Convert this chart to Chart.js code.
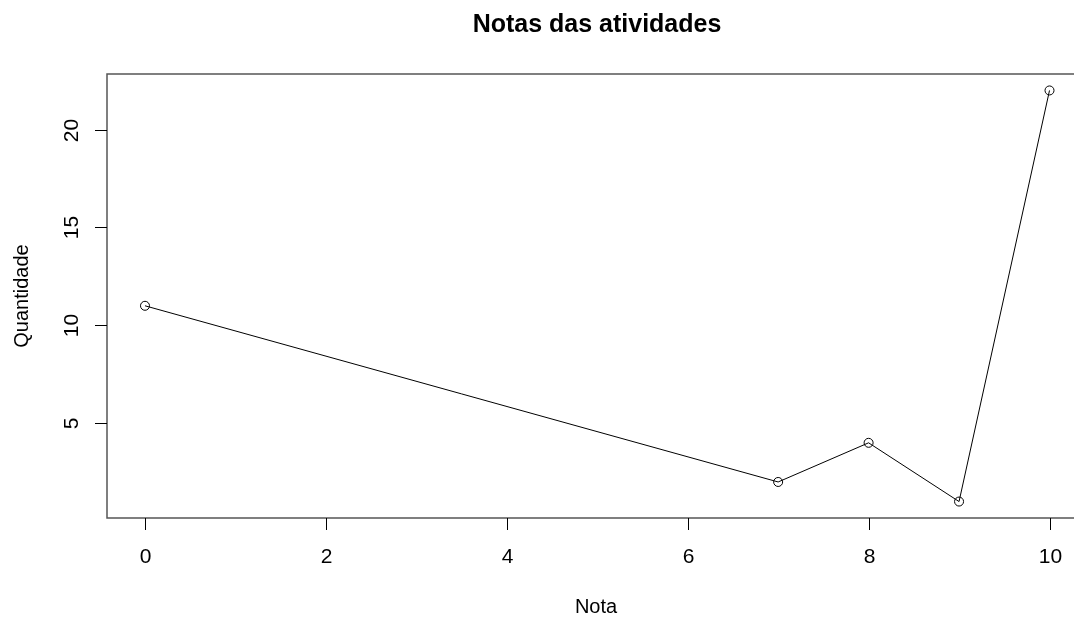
<!DOCTYPE html>
<html>
<head>
<meta charset="utf-8">
<script src="https://cdn.jsdelivr.net/npm/chart.js@4/dist/chart.umd.min.js"></script>
<style>
  html, body { margin: 0; padding: 0; background: #ffffff; }
  #wrap { width: 1074px; height: 618px; }
</style>
</head>
<body>
<div id="wrap"><canvas id="chart" width="1074" height="618"></canvas></div>
<script>
// values
const notas = [0, 7, 8, 9, 10];
const quantidade = [11, 2, 4, 1, 22];
const xTicks = [0, 2, 4, 6, 8, 10];
const yTicks = [5, 10, 15, 20];

const chartTitle = "Notas das atividades";
const xTitle = "Nota";
const yTitle = "Quantidade";

// R-style axes: box (right side is cut off in the original), outward ticks, rotated y labels
const rAxes = {
  id: "rAxes",
  afterDraw(chart) {
    const ctx = chart.ctx;
    const a = chart.chartArea;
    const x = chart.scales.x;
    const y = chart.scales.y;
    ctx.save();
    ctx.strokeStyle = "#555555";
    ctx.lineWidth = 1.5;
    ctx.beginPath();
    ctx.moveTo(chart.width, a.top);
    ctx.lineTo(a.left, a.top);
    ctx.lineTo(a.left, a.bottom);
    ctx.lineTo(chart.width, a.bottom);
    ctx.stroke();

    ctx.strokeStyle = "#000000";
    ctx.lineWidth = 1;
    ctx.fillStyle = "#000000";
    ctx.font = "21px 'Liberation Sans', Arial, sans-serif";
    ctx.textAlign = "center";
    ctx.textBaseline = "middle";
    for (const t of xTicks) {
      const px = Math.round(x.getPixelForValue(t)) + 0.5;
      ctx.beginPath();
      ctx.moveTo(px, a.bottom);
      ctx.lineTo(px, a.bottom + 12);
      ctx.stroke();
      ctx.fillText(String(t), px, a.bottom + 39);
    }
    for (const t of yTicks) {
      const py = Math.round(y.getPixelForValue(t)) + 0.5;
      ctx.beginPath();
      ctx.moveTo(a.left, py);
      ctx.lineTo(a.left - 12, py);
      ctx.stroke();
      ctx.save();
      ctx.translate(a.left - 35, py);
      ctx.rotate(-Math.PI / 2);
      ctx.fillText(String(t), 0, 0);
      ctx.restore();
    }

    ctx.font = "20px 'Liberation Sans', Arial, sans-serif";
    ctx.fillText(xTitle, 596, 607);
    ctx.save();
    ctx.translate(22, (a.top + a.bottom) / 2);
    ctx.rotate(-Math.PI / 2);
    ctx.fillText(yTitle, 0, 0);
    ctx.restore();

    ctx.font = "bold 25px 'Liberation Sans', Arial, sans-serif";
    ctx.fillText(chartTitle, 597, 25);
    ctx.restore();
  }
};

new Chart(document.getElementById("chart"), {
  type: "scatter",
  data: {
    datasets: [{
      data: notas.map((n, i) => ({ x: n, y: quantidade[i] })),
      showLine: true,
      borderColor: "#000000",
      borderWidth: 1,
      pointRadius: 4.5,
      pointBorderWidth: 1,
      pointBorderColor: "#000000",
      pointBackgroundColor: "rgba(0,0,0,0)",
      clip: false
    }]
  },
  options: {
    responsive: false,
    animation: false,
    layout: { padding: { left: 107, right: 0, top: 74, bottom: 100 } },
    plugins: { legend: { display: false }, tooltip: { enabled: false } },
    scales: {
      x: { type: "linear", min: -0.42, max: 10.21, display: false },
      y: { type: "linear", min: 0.16, max: 22.84, display: false }
    }
  },
  plugins: [rAxes]
});
</script>
</body>
</html>
